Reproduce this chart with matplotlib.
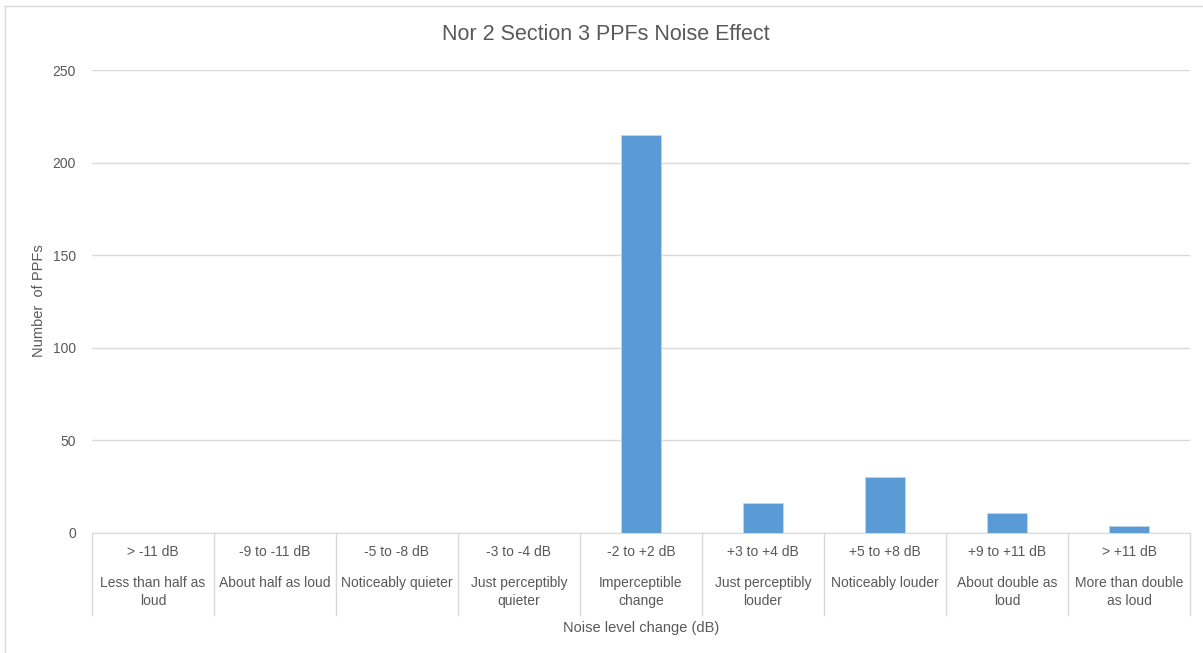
import matplotlib
matplotlib.use("Agg")
import matplotlib.pyplot as plt
import matplotlib.transforms as mtransforms
from matplotlib.lines import Line2D

# Dados do gráfico
faixas_db = ['> -11 dB', '-9 to -11 dB', '-5 to -8 dB', '-3 to -4 dB', '-2 to +2 dB',
             '+3 to +4 dB', '+5 to +8 dB', '+9 to +11 dB', '> +11 dB']
descricoes = ['Less than half as\nloud', 'About half as loud', 'Noticeably quieter',
              'Just perceptibly\nquieter', 'Imperceptible\nchange', 'Just perceptibly\nlouder',
              'Noticeably louder', 'About double as\nloud', 'More than double\nas loud']
num_ppfs = [0, 0, 0, 0, 215, 16, 30, 11, 4]
y_ticks = [0, 50, 100, 150, 200, 250]

cor_texto = '#595959'
cor_linha = '#d9d9d9'
plt.rcParams['font.family'] = ['Liberation Sans', 'DejaVu Sans']

W, H = 1203, 653
fig = plt.figure(figsize=(W / 100, H / 100), dpi=100)
fig.patch.set_facecolor('white')

# Área do gráfico em pixels
x0, x1, y0, y1 = 92, 1190, 533, 70
ax = fig.add_axes([x0 / W, 1 - y0 / H, (x1 - x0) / W, (y0 - y1) / H])

pos = list(range(len(num_ppfs)))
ax.bar(pos, num_ppfs, width=0.32, color='#5b9bd5', edgecolor='#bdd7ee', linewidth=0.6, zorder=3)

ax.set_xlim(-0.5, len(num_ppfs) - 0.5)
ax.set_ylim(0, 250)
ax.set_yticks(y_ticks)
ax.yaxis.grid(True, color=cor_linha, linewidth=1)
ax.set_axisbelow(True)
for s in ['top', 'right', 'left']:
    ax.spines[s].set_visible(False)
ax.spines['bottom'].set_color(cor_linha)
ax.tick_params(axis='y', length=0, pad=11.5, labelsize=10, labelcolor=cor_texto)
ax.tick_params(axis='x', length=0, labelbottom=False)

# Tabela de categorias em dois níveis
trans = mtransforms.blended_transform_factory(ax.transData, ax.transAxes)
h_px = y0 - y1
base = -(615 - y0) / h_px
for i in range(len(num_ppfs) + 1):
    ax.add_line(Line2D([i - 0.5, i - 0.5], [0, base], transform=trans, color=cor_linha,
                       linewidth=1, clip_on=False))
for i, (f, d) in enumerate(zip(faixas_db, descricoes)):
    ax.text(i, -(552 - y0) / h_px, f, transform=trans, ha='center', va='center',
            fontsize=10, color=cor_texto)
    ax.text(i, -(576 - y0) / h_px, d, transform=trans, ha='center', va='top',
            fontsize=10, color=cor_texto, linespacing=1.38)

fig.text((x0 + x1) / 2 / W, 1 - 628 / H, 'Noise level change (dB)', ha='center', va='center',
         fontsize=10.5, color=cor_texto)
fig.text(39 / W, 1 - 301 / H, 'Number  of PPFs', ha='center', va='center', rotation=90,
         fontsize=10.5, color=cor_texto)
fig.text(606 / W, 1 - 35 / H, 'Nor 2 Section 3 PPFs Noise Effect', ha='center', va='center',
         fontsize=15.5, color=cor_texto)

# Borda do gráfico
fig.add_artist(Line2D([5 / W, 5 / W], [0, 1 - 6 / H], transform=fig.transFigure, color=cor_linha, linewidth=1))
fig.add_artist(Line2D([5 / W, 1], [1 - 6 / H, 1 - 6 / H], transform=fig.transFigure, color=cor_linha, linewidth=1))

fig.savefig('out.png', dpi=100)
